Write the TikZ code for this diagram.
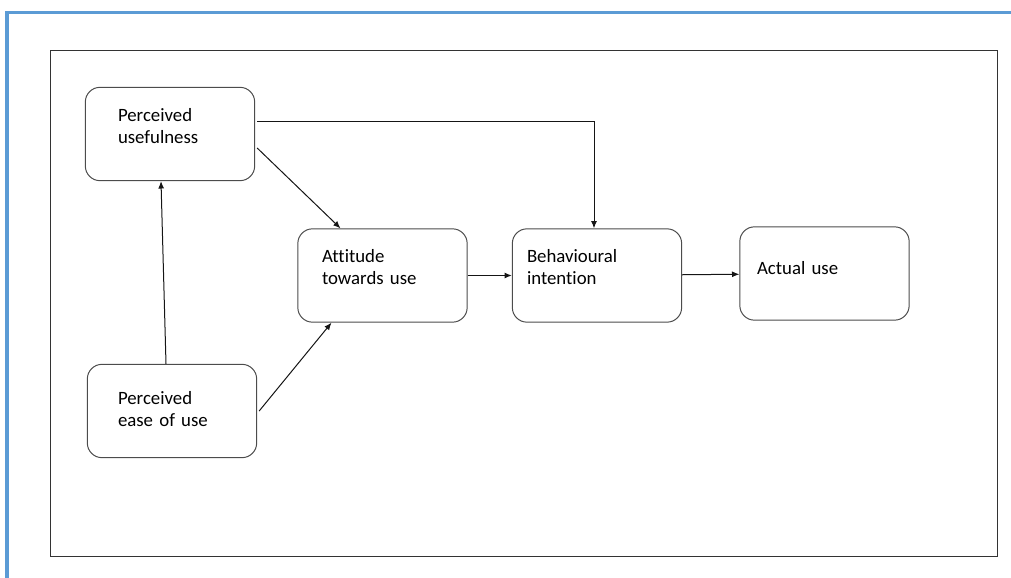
\documentclass[tikz,border=0pt]{standalone}
\usepackage{fontspec}
\setmainfont{Carlito}[Ligatures=CommonOff]
\usetikzlibrary{arrows.meta, calc}
\definecolor{cframe}{HTML}{5B9BD5}
\definecolor{cline}{HTML}{151515}
\tikzset{
  every picture/.style={x=0.75pt, y=-0.75pt, line width=0.75pt},
  box/.style={draw=black!70, rounded corners=11pt, align=left, inner sep=0pt,
    minimum width=127pt, minimum height=70pt, text width=#1,
    font=\fontsize{14.1pt}{16.5pt}\selectfont},
  box/.default=90pt,
  arrow/.style={-{Latex[length=5.5pt, width=4.5pt]}, draw=cline, line width=0.75pt},
}

\begin{document}
\begin{tikzpicture}
  \useasboundingbox (0,0) rectangle (1011,578);
  % outer frame
  \draw[cframe, line width=2.4pt] (7,578) -- (7,12.5) -- (1011,12.5);
  \draw[black!80] (50.5,50) rectangle (997,556);
  % boxes
  \node[box=78pt, text depth=28pt] (pu) at (170,134) {Perceived\\usefulness};
  \node[box=81pt, text depth=19pt] (peu) at (172,411) {Perceived\\ease of use};
  \node[box=90.75pt, text depth=29pt] (att) at (382.5,275.5) {Attitude\\towards use};
  \node[box=105pt, text depth=29pt] (bi) at (597,275.5) {Behavioural\\intention};
  \node[box=101.25pt, text depth=8pt] (au) at (824.5,273.5) {Actual use};
  % connectors
  \draw[arrow] ($(pu.east)+(2,-13)$) -| ($(bi.north)+(-3,0)$);
  \draw[arrow] ($(pu.east)+(2,14)$) -- ($(att.north)+(-42,0)$);
  \draw[arrow] ($(peu.north)+(-6,0)$) -- ($(pu.south)+(-9,0)$);
  \draw[arrow] ($(peu.east)+(2,0)$) -- ($(att.south)+(-51,0)$);
  \draw[arrow] (att) -- (bi);
  \draw[arrow] (bi) -- (au);
\end{tikzpicture}
\end{document}
